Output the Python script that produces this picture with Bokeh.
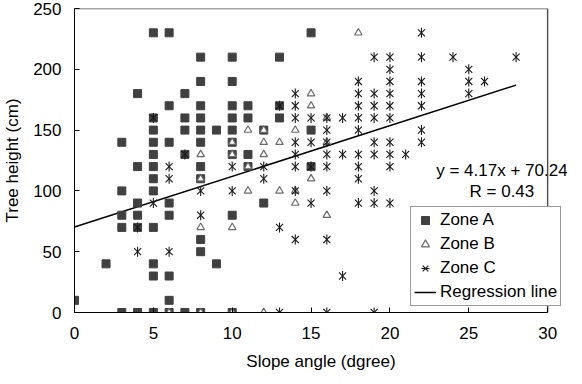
from bokeh.plotting import figure
from bokeh.models import Legend, LegendItem, Label, Range1d, FixedTicker
from bokeh.embed import file_html
from bokeh.resources import INLINE

# ---- data (slope angle in degrees, tree height in cm) ----
zone_a_x = [0, 2,
            3, 3, 3, 3, 3,
            4, 4, 4, 4, 4, 4,
            5, 5, 5, 5, 5, 5, 5, 5, 5, 5, 5, 5,
            6, 6, 6, 6, 6, 6, 6, 6,
            7, 7, 7, 7, 7,
            8, 8, 8, 8, 8, 8, 8, 8, 8, 8, 8,
            9, 9,
            10, 10, 10, 10, 10, 10, 10, 10, 10,
            11, 11, 11, 11,
            12, 12,
            13, 13, 13,
            15, 15, 15]
zone_a_y = [10, 40,
            140, 100, 80, 70, 0,
            180, 120, 90, 80, 70, 0,
            230, 160, 150, 140, 130, 120, 110, 100, 70, 40, 30, 0,
            230, 170, 140, 90, 80, 30, 10, 0,
            180, 160, 150, 130, 0,
            210, 190, 170, 160, 150, 140, 120, 110, 60, 50, 0,
            150, 40,
            210, 190, 170, 160, 150, 140, 130, 80, 0,
            170, 160, 130, 120,
            150, 90,
            210, 170, 160,
            230, 150, 120]

zone_b_x = [6, 8, 10, 12,
            8, 8, 8,
            10, 10, 10,
            11, 11, 11,
            12, 12, 12,
            13, 13,
            14, 14, 14,
            15, 15, 15,
            16, 16, 16,
            18]
zone_b_y = [0, 0, 0, 0,
            130, 110, 70,
            140, 130, 70,
            150, 120, 100,
            150, 140, 130,
            140, 100,
            150, 100, 90,
            180, 170, 110,
            160, 140, 80,
            230]

zone_c_x = [4, 4,
            5, 5,
            6, 6, 6,
            7,
            8, 8,
            10, 10,
            12, 12,
            13, 13, 13,
            14, 14, 14, 14, 14, 14, 14, 14,
            15, 15, 15, 15,
            16, 16, 16, 16, 16, 16, 16, 16,
            17, 17, 17,
            18, 18, 18, 18, 18, 18, 18, 18, 18,
            19, 19, 19, 19, 19, 19, 19, 19, 19,
            20, 20, 20, 20, 20, 20, 20, 20, 20, 20,
            21,
            22, 22, 22, 22, 22, 22, 22,
            24,
            25, 25, 25,
            26,
            28]
zone_c_y = [70, 50,
            160, 90,
            120, 110, 50,
            130,
            100, 80,
            120, 100,
            120, 110,
            170, 70, 0,
            180, 170, 160, 140, 130, 120, 100, 60,
            160, 140, 120, 90,
            160, 150, 140, 130, 120, 100, 60, 0,
            160, 130, 30,
            190, 180, 170, 160, 150, 130, 120, 110, 90,
            210, 180, 170, 160, 140, 130, 100, 90, 0,
            210, 200, 190, 180, 170, 160, 140, 130, 120, 90,
            130,
            230, 210, 190, 180, 170, 150, 140,
            210,
            200, 190, 180,
            190,
            210]

# regression line y = 4.17x + 70.24 over the data range
reg_slope = 4.17
reg_intercept = 70.24
reg_x = [0, 28]
reg_y = [reg_slope * v + reg_intercept for v in reg_x]

x_ticks = [0, 5, 10, 15, 20, 25, 30]
y_ticks = [0, 50, 100, 150, 200, 250]
x_max = 30
y_max = 250

FONT = "Liberation Sans"
FS = "17px"

# frame extends a little past x=30 so the legend / equation may overhang
p = figure(frame_width=493, frame_height=304,
           min_border_left=73, min_border_right=0,
           min_border_top=8, min_border_bottom=56,
           x_range=Range1d(0, 31.26), y_range=Range1d(0, y_max),
           output_backend="svg", toolbar_location=None,
           background_fill_color="white", border_fill_color="white")

p.xgrid.visible = False
p.ygrid.visible = False
p.outline_line_color = None

for ax in (p.xaxis[0], p.yaxis[0]):
    ax.axis_line_color = "black"
    ax.axis_line_width = 1
    ax.major_tick_in = 5
    ax.major_tick_out = 0
    ax.major_tick_line_color = "black"
    ax.minor_tick_line_color = None
    ax.major_label_text_font = FONT
    ax.major_label_text_font_size = FS
    ax.major_label_text_color = "black"
    ax.axis_label_text_font = FONT
    ax.axis_label_text_font_size = FS
    ax.axis_label_text_font_style = "normal"
    ax.axis_label_text_color = "black"

p.xaxis[0].ticker = FixedTicker(ticks=x_ticks)
p.yaxis[0].ticker = FixedTicker(ticks=y_ticks)
p.xaxis[0].bounds = (0, x_max)
p.xaxis[0].axis_label = "Slope angle (dgree)"
p.yaxis[0].axis_label = "Tree height (cm)"
p.xaxis[0].major_label_standoff = 14
p.yaxis[0].major_label_standoff = 13
p.xaxis[0].axis_label_standoff = 10
p.yaxis[0].axis_label_standoff = 8

# plot-area border (top and right)
p.line([0, x_max, x_max], [y_max, y_max, 0], line_color="#4a4a4a", line_width=1.4)

# regression line
r_line = p.line(reg_x, reg_y, line_color="black", line_width=1.5)

# zone A: filled dark squares
r_a = p.scatter(zone_a_x, zone_a_y, marker="square", size=8,
                fill_color="#404040", line_color="#404040")
# zone B: hollow triangles
r_b = p.scatter(zone_b_x, zone_b_y, marker="triangle", size=7.5,
                fill_color="white", line_color="#6a6a6a", line_width=1.2)
# zone C: six-arm asterisk (x + vertical dash)
r_c1 = p.scatter(zone_c_x, zone_c_y, marker="x", size=10,
                 line_color="#1a1a1a", line_width=1.1)
r_c2 = p.scatter(zone_c_x, zone_c_y, marker="dash", size=10, angle=1.5708,
                 line_color="#1a1a1a", line_width=1.1)

legend = Legend(items=[
    LegendItem(label="Zone A", renderers=[r_a]),
    LegendItem(label="Zone B", renderers=[r_b]),
    LegendItem(label="Zone C", renderers=[r_c1, r_c2]),
    LegendItem(label="Regression line", renderers=[r_line]),
], location=(336, 6))
legend.label_text_font = FONT
legend.label_text_font_size = FS
legend.label_text_color = "black"
legend.glyph_width = 22
legend.glyph_height = 20
legend.label_height = 20
legend.label_standoff = 4
legend.spacing = 4
legend.padding = 3
legend.margin = 0
legend.border_line_color = "#333333"
legend.border_line_width = 1
legend.background_fill_color = "white"
legend.background_fill_alpha = 1
p.add_layout(legend, "center")

eq_label = Label(x=27.1, y=116.8, text="y = 4.17x + 70.24",
                 text_align="center", text_baseline="middle",
                 text_font=FONT, text_font_size=FS, text_color="black")
r_label = Label(x=27.1, y=99.5, text="R = 0.43",
                text_align="center", text_baseline="middle",
                text_font=FONT, text_font_size=FS, text_color="black")
p.add_layout(eq_label)
p.add_layout(r_label)

open("out.html", "w").write(file_html(p, INLINE))
